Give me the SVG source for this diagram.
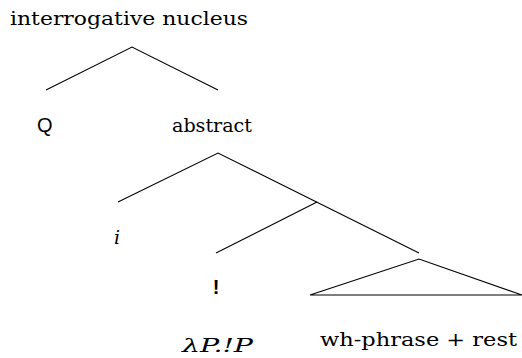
<svg xmlns="http://www.w3.org/2000/svg" width="522" height="358" viewBox="0 0 522 358">
<style>
text{fill:#000}
.t{font-family:'DejaVu Serif',serif;font-size:19px}
.s{font-family:'Liberation Sans',Arial,sans-serif;font-size:20px}
.e{stroke:#000;stroke-width:1.1;fill:none}
</style>
<rect width="522" height="358" fill="#fff"/>
<g id="edges">
<path class="e" d="M46,90 L132,47 L218,90"/>
<path class="e" d="M118,202 L218,153 L419,253"/>
<path class="e" d="M216,253 L317,202"/>
<path class="e" d="M310,295 L419,259 L522,295 Z"/>
</g>
<g id="root"><text class="t" x="10" y="25" textLength="238" lengthAdjust="spacingAndGlyphs">interrogative nucleus</text></g>
<g id="q"><text class="s" x="37" y="132">Q</text></g>
<g id="abstract"><text class="t" x="172" y="132" textLength="80" lengthAdjust="spacingAndGlyphs">abstract</text></g>
<g id="i"><text class="t" x="117" y="244" font-style="italic" text-anchor="middle">i</text></g>
<g id="excl"><text class="s" x="216" y="294" font-weight="bold" text-anchor="middle">!</text></g>
<g id="lambda"><text class="t" x="182" y="352" font-style="italic" textLength="71" lengthAdjust="spacingAndGlyphs">λP.!P</text></g>
<g id="wh"><text class="t" x="320" y="346" textLength="197" lengthAdjust="spacingAndGlyphs">wh-phrase + rest</text></g>
</svg>
